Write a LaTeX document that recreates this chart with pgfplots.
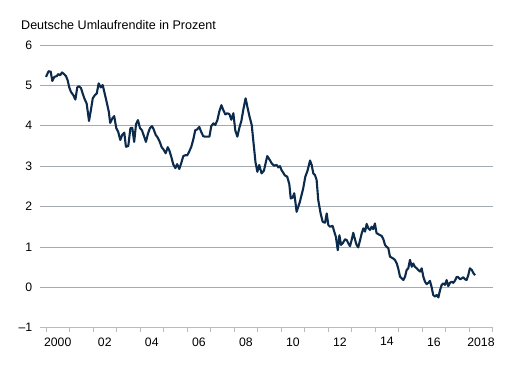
\documentclass[border=0pt]{standalone}
\usepackage{fontspec}
\setmainfont{Liberation Sans}
\usepackage{pgfplots}
\pgfplotsset{compat=1.18}
\usepackage{pgfplotstable}
\definecolor{navy}{HTML}{0B2A4C}
\definecolor{gridgrey}{HTML}{A3AAB2}
\definecolor{axisgrey}{HTML}{B5BCC3}
\pgfplotstableread{
year value
2000.00 5.21
2000.11 5.35
2000.20 5.34
2000.27 5.11
2000.35 5.21
2000.46 5.23
2000.52 5.28
2000.60 5.25
2000.68 5.32
2000.77 5.28
2000.85 5.23
2000.92 5.13
2000.99 4.95
2001.06 4.84
2001.16 4.76
2001.25 4.65
2001.33 4.95
2001.40 4.98
2001.49 4.93
2001.56 4.80
2001.63 4.68
2001.73 4.55
2001.83 4.12
2001.91 4.39
2001.99 4.68
2002.08 4.76
2002.16 4.80
2002.24 5.05
2002.33 4.95
2002.41 5.01
2002.48 4.84
2002.58 4.59
2002.67 4.35
2002.73 4.07
2002.82 4.18
2002.90 4.24
2002.99 3.94
2003.07 3.85
2003.16 3.65
2003.24 3.77
2003.33 3.83
2003.40 3.48
2003.50 3.50
2003.59 3.94
2003.67 3.95
2003.75 3.60
2003.83 4.04
2003.91 4.14
2004.00 3.94
2004.08 3.89
2004.17 3.74
2004.25 3.60
2004.34 3.81
2004.42 3.94
2004.51 3.99
2004.58 3.91
2004.67 3.77
2004.75 3.71
2004.84 3.60
2004.92 3.47
2004.99 3.42
2005.09 3.32
2005.18 3.47
2005.24 3.40
2005.33 3.23
2005.41 3.05
2005.50 2.95
2005.58 3.05
2005.67 2.93
2005.75 3.07
2005.84 3.25
2005.92 3.27
2006.01 3.27
2006.09 3.36
2006.18 3.48
2006.26 3.65
2006.35 3.89
2006.43 3.91
2006.52 3.97
2006.60 3.85
2006.69 3.74
2006.78 3.73
2006.86 3.73
2006.95 3.73
2007.03 3.99
2007.12 4.06
2007.20 4.02
2007.29 4.14
2007.37 4.35
2007.46 4.51
2007.54 4.39
2007.63 4.28
2007.71 4.31
2007.80 4.29
2007.88 4.15
2007.97 4.31
2008.05 3.89
2008.14 3.73
2008.22 3.94
2008.31 4.12
2008.39 4.39
2008.49 4.68
2008.58 4.43
2008.66 4.22
2008.75 4.02
2008.83 3.56
2008.91 3.10
2008.99 2.86
2009.07 3.03
2009.17 2.82
2009.27 2.89
2009.41 3.25
2009.50 3.17
2009.60 3.07
2009.70 3.01
2009.81 3.03
2009.88 2.97
2009.95 3.00
2010.02 2.90
2010.09 2.84
2010.16 2.77
2010.26 2.74
2010.35 2.55
2010.41 2.20
2010.49 2.22
2010.56 2.33
2010.66 1.87
2010.80 2.12
2010.94 2.45
2011.03 2.74
2011.12 2.88
2011.23 3.14
2011.30 3.03
2011.37 2.82
2011.44 2.78
2011.51 2.66
2011.58 2.16
2011.68 1.83
2011.77 1.62
2011.87 1.60
2011.94 1.83
2012.01 1.54
2012.08 1.50
2012.19 1.52
2012.26 1.38
2012.33 1.25
2012.41 0.92
2012.48 1.29
2012.55 1.05
2012.62 1.09
2012.72 1.19
2012.79 1.17
2012.86 1.09
2012.93 1.02
2013.00 1.17
2013.07 1.35
2013.14 1.19
2013.21 1.05
2013.28 0.99
2013.36 1.17
2013.43 1.34
2013.50 1.46
2013.57 1.38
2013.64 1.57
2013.71 1.46
2013.78 1.42
2013.85 1.50
2013.92 1.44
2013.99 1.58
2014.06 1.34
2014.13 1.32
2014.21 1.29
2014.28 1.27
2014.35 1.19
2014.42 1.05
2014.49 1.00
2014.56 0.97
2014.63 0.76
2014.75 0.72
2014.84 0.68
2014.92 0.59
2014.98 0.47
2015.06 0.26
2015.13 0.22
2015.20 0.18
2015.27 0.26
2015.34 0.43
2015.41 0.47
2015.48 0.68
2015.56 0.51
2015.62 0.59
2015.69 0.51
2015.77 0.47
2015.83 0.43
2015.91 0.39
2015.98 0.47
2016.05 0.26
2016.12 0.14
2016.19 0.08
2016.26 0.11
2016.33 0.16
2016.40 0.01
2016.47 -0.19
2016.54 -0.23
2016.62 -0.19
2016.69 -0.25
2016.76 -0.07
2016.83 0.06
2016.90 0.10
2016.97 0.06
2017.04 0.18
2017.11 0.03
2017.18 0.11
2017.26 0.14
2017.32 0.11
2017.39 0.16
2017.47 0.26
2017.53 0.25
2017.61 0.20
2017.68 0.22
2017.75 0.25
2017.82 0.20
2017.89 0.18
2017.96 0.30
2018.03 0.47
2018.11 0.43
2018.18 0.35
2018.25 0.30
}\umlauf
\begin{document}
\begin{tikzpicture}
\begin{axis}[
  scale only axis,
  width=452.7bp, height=282.7bp,
  xmin=1999.745, xmax=2019,
  ymin=-1, ymax=6,
  axis x line*=bottom,
  axis y line*=left,
  x axis line style={draw=axisgrey, line width=0.8bp, -},
  y axis line style={draw=none},
  ytick={-1,0,...,6},
  yticklabels={\textendash1,0,1,2,3,4,5,6},
  major y tick style={draw=none},
  ymajorgrids,
  grid style={draw=gridgrey, line width=0.8bp},
  xtick={2000.5,2002.5,...,2018.5},
  xticklabels={2000,02,04,06,08,10,12,14,16,2018},
  major x tick style={draw=none},
  minor xtick={2000,2001,...,2019},
  minor x tick style={draw=axisgrey, line width=0.8bp},
  minor tick length=4bp,
  tick align=outside,
  ticklabel style={font=\fontsize{12.3}{14}\selectfont, text=black},
  xticklabel style={yshift=-2bp},
]
\addplot[navy, line width=2.1bp, line join=round] table[x=year, y=value] {\umlauf};
\end{axis}
\node[anchor=base west, inner sep=0pt, font=\fontsize{12.6}{15}\selectfont, text=black] at (-19bp,298.2bp) {Deutsche Umlaufrendite in Prozent};
\pgfresetboundingbox
\path[use as bounding box] (-40bp,-57.3bp) rectangle (478bp,327.7bp);
\end{tikzpicture}
\end{document}
